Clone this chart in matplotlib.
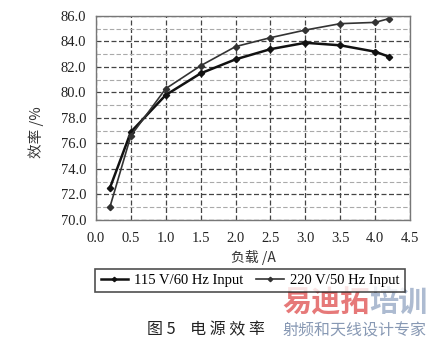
import matplotlib
matplotlib.use("Agg")
import matplotlib.pyplot as plt
from matplotlib.ticker import MultipleLocator

# load current (A) and efficiency (%)
load = [0.2, 0.5, 1.0, 1.5, 2.0, 2.5, 3.0, 3.5, 4.0, 4.2]
eff_115 = [72.5, 76.9, 79.8, 81.5, 82.6, 83.4, 83.9, 83.7, 83.2, 82.8]
eff_220 = [71.0, 76.6, 80.3, 82.1, 83.6, 84.3, 84.9, 85.4, 85.5, 85.8]
labels = ["115 V/60 Hz Input", "220 V/50 Hz Input"]

serif = ["Liberation Serif", "DejaVu Serif"]
cjk = ["Noto Sans CJK SC", "DejaVu Sans"]

fig = plt.figure(figsize=(4.34, 3.48), dpi=100)
ax = fig.add_axes([0.221, 0.368, 0.724, 0.586])

l1, = ax.plot(load, eff_115, color="#111111", lw=1.8, marker="D", ms=3.2)
l2, = ax.plot(load, eff_220, color="#333333", lw=1.2, marker="D", ms=3.2)

ax.set_xlim(0, 4.5)
ax.set_ylim(70, 86)
ax.yaxis.set_major_locator(MultipleLocator(2))
ax.yaxis.set_minor_locator(MultipleLocator(1))
ax.set_xticks([0.0, 0.5, 1.0, 1.5, 2.0, 2.5, 3.0, 3.5, 4.0, 4.5])
ax.set_xticklabels(["%.1f" % v for v in ax.get_xticks()], fontfamily=serif, fontsize=10.5)
ax.set_yticklabels(["%.1f" % v for v in ax.get_yticks()], fontfamily=serif, fontsize=10.5)
ax.tick_params(which="both", length=0, colors="#222222")
ax.tick_params(axis="x", pad=9)
ax.tick_params(axis="y", pad=7)

ax.grid(which="major", ls=(0, (4, 2)), color="#444444", lw=0.9)
ax.grid(which="minor", axis="y", ls=(0, (4, 2)), color="#aaaaaa", lw=0.8)
ax.set_axisbelow(True)
for s in ax.spines.values():
    s.set_color("#777777")
    s.set_linewidth(1.0)

ax.set_xlabel("负载 /A", family=cjk, fontsize=10, color="#333333", labelpad=3)
ax.set_ylabel("效率 /%", family=cjk, fontsize=10.5, color="#333333")
ax.yaxis.set_label_coords(-0.165, 0.43)

leg = fig.legend([l1, l2], labels, loc="center", bbox_to_anchor=(0.576, 0.194),
                 ncol=2, frameon=True, fancybox=False, edgecolor="#222222",
                 prop={"family": serif, "size": 10.5}, handlelength=1.9,
                 columnspacing=0.9, handletextpad=0.4, borderpad=0.35,
                 markerscale=0.7)
leg.get_frame().set_linewidth(1.2)

fig.text(0.475, 0.052, "图 5    电 源 效 率", family=cjk, fontsize=11.5, ha="center",
         va="center", color="#222222")

# watermark
fig.text(0.650, 0.132, "易迪拓", family=cjk, fontsize=21, fontweight="bold",
         color="#e46a6a", ha="left", va="center", alpha=0.9)
fig.text(0.984, 0.132, "培训", family=cjk, fontsize=21, fontweight="bold",
         color="#a4b4cc", ha="right", va="center", alpha=0.9)
fig.text(0.650, 0.049, "射频和天线设计专家", family=cjk, fontsize=11.5,
         color="#8899b4", ha="left", va="center")

fig.savefig("out.png", dpi=100)
